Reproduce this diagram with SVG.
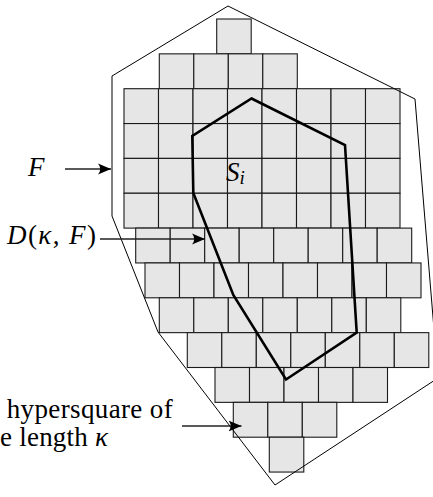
<svg xmlns="http://www.w3.org/2000/svg" width="433" height="497" viewBox="0 0 433 497">
<style>
.sq{fill:#e6e6e6;stroke:#1a1a1a;stroke-width:1.1}
.outer{fill:none;stroke:#000;stroke-width:1}
.si{fill:none;stroke:#000;stroke-width:2.6;stroke-linejoin:miter}
.lbl{font-family:"Liberation Serif","Times New Roman",serif;font-size:27px;fill:#000}
.it{font-style:italic}
.conn{stroke:#222;stroke-width:1.3;fill:none}
</style>
<defs>
<marker id="ah" viewBox="-13 -6 13 12" refX="0" refY="0" markerWidth="13" markerHeight="12" markerUnits="userSpaceOnUse" orient="auto">
<path d="M0,0 L-13,-5.5 Q-8.5,0 -13,5.5 Z" fill="#000"/>
</marker>
</defs>
<rect width="433" height="497" fill="#fff"/>
<g id="grid-D">
<rect class="sq" x="216.7" y="19" width="34.5" height="34.85"/>
<rect class="sq" x="159.3" y="53.85" width="34.5" height="34.85"/><rect class="sq" x="193.8" y="53.85" width="34.5" height="34.85"/><rect class="sq" x="228.3" y="53.85" width="34.5" height="34.85"/><rect class="sq" x="262.8" y="53.85" width="34.5" height="34.85"/>
<rect class="sq" x="124" y="88.7" width="34.5" height="34.85"/><rect class="sq" x="158.5" y="88.7" width="34.5" height="34.85"/><rect class="sq" x="193" y="88.7" width="34.5" height="34.85"/><rect class="sq" x="227.5" y="88.7" width="34.5" height="34.85"/><rect class="sq" x="262" y="88.7" width="34.5" height="34.85"/><rect class="sq" x="296.5" y="88.7" width="34.5" height="34.85"/><rect class="sq" x="331" y="88.7" width="34.5" height="34.85"/><rect class="sq" x="365.5" y="88.7" width="34.5" height="34.85"/>
<rect class="sq" x="124" y="123.55" width="34.5" height="34.85"/><rect class="sq" x="158.5" y="123.55" width="34.5" height="34.85"/><rect class="sq" x="193" y="123.55" width="34.5" height="34.85"/><rect class="sq" x="227.5" y="123.55" width="34.5" height="34.85"/><rect class="sq" x="262" y="123.55" width="34.5" height="34.85"/><rect class="sq" x="296.5" y="123.55" width="34.5" height="34.85"/><rect class="sq" x="331" y="123.55" width="34.5" height="34.85"/><rect class="sq" x="365.5" y="123.55" width="34.5" height="34.85"/>
<rect class="sq" x="124" y="158.4" width="34.5" height="34.85"/><rect class="sq" x="158.5" y="158.4" width="34.5" height="34.85"/><rect class="sq" x="193" y="158.4" width="34.5" height="34.85"/><rect class="sq" x="227.5" y="158.4" width="34.5" height="34.85"/><rect class="sq" x="262" y="158.4" width="34.5" height="34.85"/><rect class="sq" x="296.5" y="158.4" width="34.5" height="34.85"/><rect class="sq" x="331" y="158.4" width="34.5" height="34.85"/><rect class="sq" x="365.5" y="158.4" width="34.5" height="34.85"/>
<rect class="sq" x="124" y="193.25" width="34.5" height="34.85"/><rect class="sq" x="158.5" y="193.25" width="34.5" height="34.85"/><rect class="sq" x="193" y="193.25" width="34.5" height="34.85"/><rect class="sq" x="227.5" y="193.25" width="34.5" height="34.85"/><rect class="sq" x="262" y="193.25" width="34.5" height="34.85"/><rect class="sq" x="296.5" y="193.25" width="34.5" height="34.85"/><rect class="sq" x="331" y="193.25" width="34.5" height="34.85"/><rect class="sq" x="365.5" y="193.25" width="34.5" height="34.85"/>
<rect class="sq" x="135.7" y="228.1" width="34.5" height="34.85"/><rect class="sq" x="170.2" y="228.1" width="34.5" height="34.85"/><rect class="sq" x="204.7" y="228.1" width="34.5" height="34.85"/><rect class="sq" x="239.2" y="228.1" width="34.5" height="34.85"/><rect class="sq" x="273.7" y="228.1" width="34.5" height="34.85"/><rect class="sq" x="308.2" y="228.1" width="34.5" height="34.85"/><rect class="sq" x="342.7" y="228.1" width="34.5" height="34.85"/><rect class="sq" x="377.2" y="228.1" width="34.5" height="34.85"/>
<rect class="sq" x="145" y="262.95" width="34.5" height="34.85"/><rect class="sq" x="179.5" y="262.95" width="34.5" height="34.85"/><rect class="sq" x="214" y="262.95" width="34.5" height="34.85"/><rect class="sq" x="248.5" y="262.95" width="34.5" height="34.85"/><rect class="sq" x="283" y="262.95" width="34.5" height="34.85"/><rect class="sq" x="317.5" y="262.95" width="34.5" height="34.85"/><rect class="sq" x="352" y="262.95" width="34.5" height="34.85"/><rect class="sq" x="386.5" y="262.95" width="34.5" height="34.85"/>
<rect class="sq" x="159.3" y="297.8" width="34.5" height="34.85"/><rect class="sq" x="193.8" y="297.8" width="34.5" height="34.85"/><rect class="sq" x="228.3" y="297.8" width="34.5" height="34.85"/><rect class="sq" x="262.8" y="297.8" width="34.5" height="34.85"/><rect class="sq" x="297.3" y="297.8" width="34.5" height="34.85"/><rect class="sq" x="331.8" y="297.8" width="34.5" height="34.85"/><rect class="sq" x="366.3" y="297.8" width="34.5" height="34.85"/>
<rect class="sq" x="187.3" y="332.65" width="34.5" height="34.85"/><rect class="sq" x="221.8" y="332.65" width="34.5" height="34.85"/><rect class="sq" x="256.3" y="332.65" width="34.5" height="34.85"/><rect class="sq" x="290.8" y="332.65" width="34.5" height="34.85"/><rect class="sq" x="325.3" y="332.65" width="34.5" height="34.85"/><rect class="sq" x="359.8" y="332.65" width="34.5" height="34.85"/><rect class="sq" x="394.3" y="332.65" width="34.5" height="34.85"/>
<rect class="sq" x="215" y="367.5" width="34.5" height="34.85"/><rect class="sq" x="249.5" y="367.5" width="34.5" height="34.85"/><rect class="sq" x="284" y="367.5" width="34.5" height="34.85"/><rect class="sq" x="318.5" y="367.5" width="34.5" height="34.85"/><rect class="sq" x="353" y="367.5" width="34.5" height="34.85"/>
<rect class="sq" x="233.3" y="402.35" width="34.5" height="34.85"/><rect class="sq" x="267.8" y="402.35" width="34.5" height="34.85"/><rect class="sq" x="302.3" y="402.35" width="34.5" height="34.85"/>
<rect class="sq" x="269.3" y="437.2" width="34.5" height="34.85"/>
</g>
<g id="region-F">
<polygon class="outer" points="228,6 112,76 112,216 158,332 275,485 438,378 415,99"/>
</g>
<g id="region-Si">
<polygon class="si" points="251.5,98.5 345,145 356.7,332.7 286,379.5 233.3,295 193.3,193 192.3,136"/>
<text class="lbl it" x="226" y="180.5">S<tspan font-size="19" dy="3.5">i</tspan></text>
</g>
<g id="label-F">
<text class="lbl it" x="28" y="176">F</text>
</g>
<g id="label-D">
<text class="lbl" x="7" y="243.5" textLength="89" lengthAdjust="spacing"><tspan class="it">D</tspan>(<tspan class="it">κ</tspan>, <tspan class="it">F</tspan>)</text>
</g>
<g id="label-hypersquare">
<text class="lbl" x="6.7" y="418" textLength="166" lengthAdjust="spacing">hypersquare of</text>
<text class="lbl" x="0" y="446" textLength="108" lengthAdjust="spacing">e length <tspan class="it">κ</tspan></text>
</g>
<g id="connectors">
<line class="conn" x1="65" y1="169" x2="111" y2="169" marker-end="url(#ah)"/>
<line class="conn" x1="100" y1="239" x2="205" y2="239" marker-end="url(#ah)"/>
<line class="conn" x1="182" y1="426" x2="241.5" y2="426" marker-end="url(#ah)"/>
</g>
</svg>
